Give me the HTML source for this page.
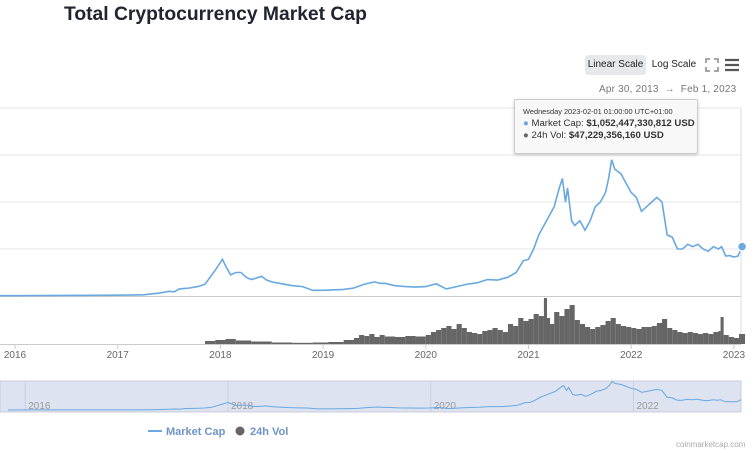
<!DOCTYPE html>
<html><head><meta charset="utf-8">
<style>
body{margin:0;width:755px;height:453px;overflow:hidden;background:#fff;font-family:"Liberation Sans",sans-serif;position:relative}
.abs{position:absolute;white-space:nowrap}
</style></head><body>
<div class="abs" style="left:64px;top:4px;font-size:19.3px;font-weight:bold;color:#222531">Total Cryptocurrency Market Cap</div>
<div class="abs" style="left:585px;top:55px;width:61px;height:20px;background:#e6e8ec;border-radius:3px;font-size:10px;line-height:20px;text-align:center;color:#222">Linear Scale</div>
<div class="abs" style="left:649px;top:55px;width:50px;height:20px;font-size:10px;line-height:20px;text-align:center;color:#222">Log Scale</div>
<svg class="abs" style="left:705px;top:58px" width="14" height="14"><path d="M1 5V1H5M9 1H13V5M13 9V13H9M5 13H1V9" stroke="#888" stroke-width="1.5" fill="none"/></svg>
<svg class="abs" style="left:725px;top:58px" width="14" height="14"><path d="M0 2H14M0 7H14M0 12H14" stroke="#555" stroke-width="2.2"/></svg>
<div class="abs" style="left:599px;top:84px;font-size:10px;color:#777;letter-spacing:0.2px">Apr 30, 2013 &nbsp;→&nbsp; Feb 1, 2023</div>
<svg id="c" class="abs" style="left:0;top:0" width="755" height="453"></svg>
<div class="abs" style="left:514px;top:99px;width:182px;height:53px;background:rgba(248,248,248,0.96);border:1px solid #ccc;box-shadow:0 1px 3px rgba(0,0,0,.2);border-radius:2px;font-size:9.6px;color:#333">
<div style="font-size:7.4px;margin:7px 0 0 8px">Wednesday 2023-02-01 01:00:00 UTC+01:00</div>
<div style="margin:2px 0 0 8px"><span style="color:#69a8e0">●</span> Market Cap: <b>$1,052,447,330,812 USD</b></div>
<div style="margin:1px 0 0 8px"><span style="color:#666">●</span> 24h Vol: <b>$47,229,356,160 USD</b></div>
</div>
<div class="abs" style="left:676px;top:440px;font-size:8px;color:#aaa">coinmarketcap.com</div>
<script>
const capYears=[2015.85,2016.0,2016.5,2017.0,2017.25,2017.35,2017.4,2017.5,2017.55,2017.6,2017.7,2017.78,2017.85,2017.9,2017.95,2018.02,2018.06,2018.1,2018.15,2018.2,2018.25,2018.3,2018.35,2018.4,2018.45,2018.5,2018.6,2018.7,2018.8,2018.9,2019.0,2019.2,2019.3,2019.4,2019.5,2019.55,2019.6,2019.7,2019.8,2019.9,2020.0,2020.1,2020.2,2020.3,2020.4,2020.5,2020.6,2020.7,2020.8,2020.88,2020.95,2021.0,2021.05,2021.1,2021.15,2021.2,2021.25,2021.3,2021.33,2021.36,2021.38,2021.42,2021.45,2021.5,2021.55,2021.6,2021.65,2021.7,2021.75,2021.78,2021.81,2021.84,2021.9,2021.95,2022.0,2022.05,2022.1,2022.15,2022.2,2022.25,2022.3,2022.35,2022.4,2022.45,2022.5,2022.55,2022.6,2022.65,2022.7,2022.75,2022.8,2022.85,2022.88,2022.92,2022.96,2023.0,2023.04,2023.08];
const capValues=[0.006,0.007,0.012,0.018,0.025,0.05,0.06,0.1,0.09,0.15,0.17,0.2,0.25,0.4,0.55,0.78,0.6,0.45,0.5,0.5,0.4,0.35,0.38,0.42,0.34,0.3,0.26,0.22,0.2,0.12,0.12,0.14,0.17,0.25,0.3,0.27,0.27,0.22,0.2,0.19,0.2,0.26,0.15,0.2,0.25,0.28,0.35,0.34,0.4,0.5,0.75,0.78,1.0,1.3,1.5,1.7,1.9,2.3,2.5,2.0,2.3,1.6,1.5,1.6,1.4,1.6,1.9,2.0,2.2,2.5,2.9,2.7,2.6,2.4,2.2,2.1,1.8,1.9,2.0,2.1,2.0,1.3,1.25,1.0,1.0,1.1,1.05,1.1,1.0,0.95,1.05,1.0,1.05,0.85,0.86,0.83,0.85,1.05];
const volYears=[2017.85,2017.95,2018.05,2018.15,2018.3,2018.5,2018.7,2018.9,2019.05,2019.2,2019.3,2019.35,2019.4,2019.45,2019.5,2019.55,2019.6,2019.7,2019.8,2019.9,2020.0,2020.05,2020.1,2020.15,2020.2,2020.25,2020.3,2020.35,2020.4,2020.45,2020.5,2020.55,2020.6,2020.65,2020.7,2020.75,2020.8,2020.85,2020.9,2020.95,2021.0,2021.05,2021.1,2021.15,2021.18,2021.21,2021.25,2021.3,2021.35,2021.4,2021.45,2021.5,2021.55,2021.6,2021.65,2021.7,2021.75,2021.8,2021.85,2021.9,2021.95,2022.0,2022.05,2022.1,2022.15,2022.2,2022.25,2022.3,2022.35,2022.4,2022.45,2022.5,2022.55,2022.6,2022.65,2022.7,2022.75,2022.8,2022.85,2022.87,2022.9,2022.95,2023.0,2023.05];
const volValues=[30,40,50,35,25,15,12,15,20,40,60,90,80,100,70,90,75,70,80,75,90,120,140,160,180,150,200,160,120,110,100,130,140,160,140,120,200,180,260,230,250,300,280,460,260,200,320,280,350,390,240,200,170,150,170,190,230,260,200,180,170,160,150,170,170,180,210,250,160,140,120,110,120,110,100,110,100,120,130,270,90,70,60,100];
const xTicks=[2016,2017,2018,2019,2020,2021,2022,2023];
const NS="http://www.w3.org/2000/svg",svg=document.getElementById('c');
const x=t=>15+(t-2016)*102.7;
const y=v=>296-v*47;
const yv=v=>344-v*0.1;
const nx=t=>8+(t-2015.85)*(733/7.23);
const ny=v=>410-v*9.8;
function mk(tag,a){const e=document.createElementNS(NS,tag);for(const k in a)e.setAttribute(k,a[k]);svg.appendChild(e);return e;}
[108,155,202,249].forEach((gy)=>{const g=mk('line',{x1:0,x2:741,y1:gy,y2:gy,stroke:'#e6e6e6'});

});
const bl=mk('line',{x1:0,x2:741,y1:296.5,y2:296.5,stroke:'#ccc'});


const rl=mk('line',{x1:741,x2:741,y1:108,y2:344,stroke:'#ddd'});


volYears.forEach((t,i)=>{const w=volYears[i+1]?x(volYears[i+1])-x(t):6;const r=mk('rect',{x:x(t),y:yv(volValues[i]),width:Math.max(w,1),height:344-yv(volValues[i]),fill:'#666'});

});
const vb=mk('line',{x1:0,x2:741,y1:344.5,y2:344.5,stroke:'#ccc'});


const p=mk('polyline',{points:capYears.map((t,i)=>Math.max(0,x(t))+','+y(capValues[i])).join(' '),fill:'none',stroke:'#69a8e0','stroke-width':1.6});


const dot=mk('circle',{cx:x(capYears[capYears.length-1]),cy:y(capValues[capValues.length-1]),r:4.5,fill:'#69a8e0',stroke:'#fff','stroke-width':1.5});


xTicks.forEach(t=>{const l=mk('line',{x1:x(t),x2:x(t),y1:344,y2:349,stroke:'#ccc'});


const tx=mk('text',{x:x(t),y:358,'text-anchor':'middle','font-size':10,fill:'#666'});tx.textContent=t;

});
const nav=mk('rect',{x:0,y:381,width:741,height:31,fill:'#dde3f0',stroke:'#ccd'});


[2016,2018,2020,2022].forEach(t=>{const l=mk('line',{x1:nx(t)+2,x2:nx(t)+2,y1:381,y2:412,stroke:'#c8cfe0'});


const tx=mk('text',{x:nx(t)+5,y:409,'font-size':10,fill:'#999'});tx.textContent=t;

});
const np=mk('polyline',{points:capYears.map((t,i)=>nx(t)+','+ny(capValues[i])).join(' '),fill:'none',stroke:'#69a8e0','stroke-width':1});


const ll=mk('line',{x1:148,x2:162,y1:431,y2:431,stroke:'#69a8e0','stroke-width':2});


const lt=mk('text',{x:166,y:435,'font-size':11,fill:'#6f93c8','font-weight':'bold'});lt.textContent='Market Cap';


const lc=mk('circle',{cx:240,cy:431,r:4.5,fill:'#666'});


const lt2=mk('text',{x:250,y:435,'font-size':11,fill:'#6f93c8','font-weight':'bold'});lt2.textContent='24h Vol';


</script>
</body></html>
